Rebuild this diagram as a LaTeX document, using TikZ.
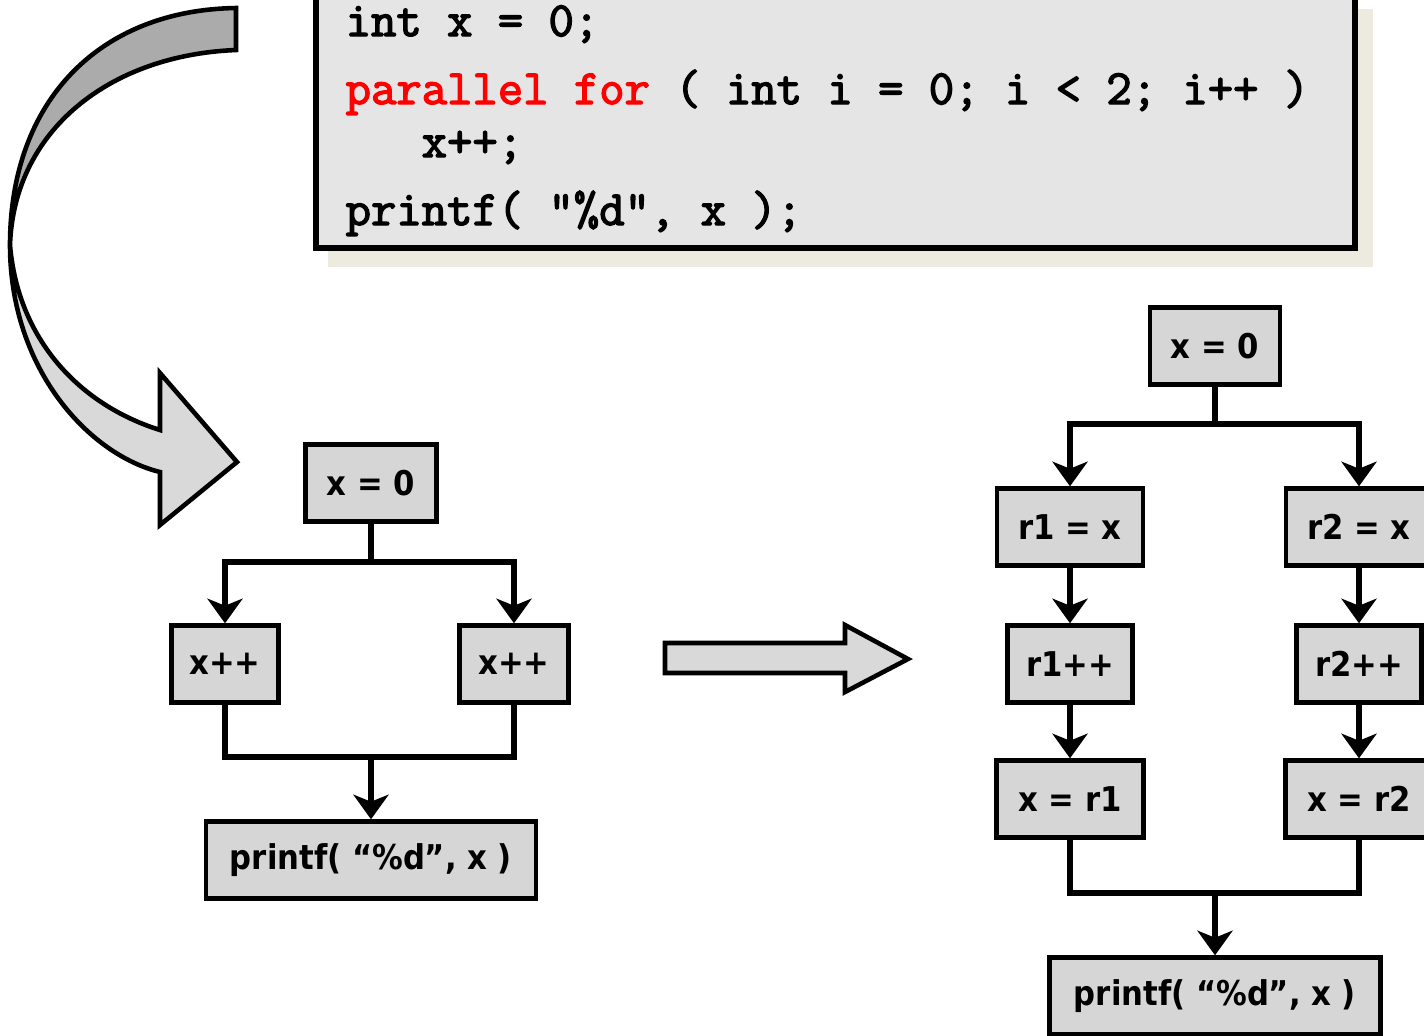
\documentclass[tikz,border=0pt]{standalone}
\usepackage{fontspec}
\setmainfont{DejaVu Sans Condensed}
\newfontfamily\codefont[FakeBold=2.8]{Latin Modern Mono}
\usepackage{xcolor}
\definecolor{codeshadow}{HTML}{EDEBE0}
\usetikzlibrary{arrows.meta,positioning}

\begin{document}
\begin{tikzpicture}[x=0.01cm,y=-0.01cm,
    blk/.style={draw,line width=1.25pt,fill=black!16,minimum height=0.77cm,
      inner sep=0pt,font=\fontsize{9.7}{11}\selectfont\bfseries},
    wire/.style={line width=1.6pt},
    flow/.style={wire,-{Stealth[length=7pt,width=10pt,inset=2pt]}},
    code/.style={anchor=base west,inner sep=0pt,
      font=\fontsize{14}{16}\selectfont\codefont},
    band/.style={line width=1.3pt,line join=miter}]
  \useasboundingbox (0,0) rectangle (1424,1035);

  \fill[codeshadow] (328,9) rectangle (1373,267);
  \filldraw[line width=1.5pt,fill=black!10] (316,-10) rectangle (1355,248);
  \node[code] (l1) at (345,36) {int x = 0;};
  \node[code] (l2) at (345,104) {\textcolor{red}{parallel for} ( int i = 0; i < 2; i++ )};
  \node[code] (l3) at (421,157) {x++;};
  \node[code] (l4) at (345,225) {printf( “\%d”, x );};

  \filldraw[band,fill=black!33] (236,8) .. controls (100,10) and (10,100) .. (10,245)
    .. controls (14,130) and (110,55) .. (236,50) -- cycle;
  \filldraw[band,fill=black!15] (10,245) .. controls (10,370) and (90,455) .. (160,472)
    -- (160,525) -- (237,462) -- (160,373) -- (160,430)
    .. controls (80,405) and (18,340) .. (10,245) -- cycle;

  \filldraw[band,fill=black!15] (665,643) -- (845,643) -- (845,625) -- (908,659)
    -- (845,692) -- (845,673) -- (665,673) -- cycle;

  \node[blk,minimum width=1.31cm] (x0) at (371,483) {x = 0};
  \node[blk,minimum width=1.07cm] (inc1) at (225,664) {x++};
  \node[blk,minimum width=1.09cm] (inc2) at (514,664) {x++};
  \node[blk,minimum width=3.30cm] (pr) at (371,860) {printf( “\%d”, x )};
  \coordinate (lsplit) at (371,562);
  \coordinate (ljoin) at (371,757);
  \draw[wire] (x0) -- (lsplit);
  \draw[flow] (lsplit) -| (inc1);
  \draw[flow] (lsplit) -| (inc2);
  \draw[wire] (inc1) |- (ljoin) -| (inc2);
  \draw[flow] (ljoin) -- (pr);

  \node[blk,minimum width=1.30cm] (y0) at (1215,346) {x = 0};
  \node[blk,minimum width=1.46cm] (r1a) at (1070,527) {r1 = x};
  \node[blk,minimum width=1.46cm] (r2a) at (1359,527) {r2 = x};
  \node[blk,minimum width=1.25cm] (r1b) at (1070,664) {r1++};
  \node[blk,minimum width=1.25cm] (r2b) at (1359,664) {r2++};
  \node[blk,minimum width=1.47cm] (r1c) at (1070,799) {x = r1};
  \node[blk,minimum width=1.47cm] (r2c) at (1359,799) {x = r2};
  \node[blk,minimum width=3.31cm] (pr2) at (1215,996) {printf( “\%d”, x )};
  \coordinate (rsplit) at (1215,424);
  \coordinate (rjoin) at (1215,893);
  \draw[wire] (y0) -- (rsplit);
  \draw[flow] (rsplit) -| (r1a);
  \draw[flow] (rsplit) -| (r2a);
  \draw[flow] (r1a) -- (r1b);
  \draw[flow] (r1b) -- (r1c);
  \draw[flow] (r2a) -- (r2b);
  \draw[flow] (r2b) -- (r2c);
  \draw[wire] (r1c) |- (rjoin) -| (r2c);
  \draw[flow] (rjoin) -- (pr2);
\end{tikzpicture}
\end{document}
